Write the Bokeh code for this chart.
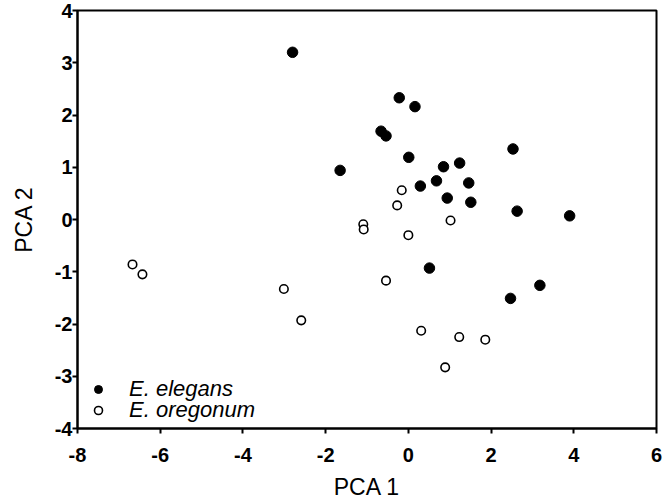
from bokeh.plotting import figure
from bokeh.models import Range1d, FixedTicker, Legend, LegendItem
from bokeh.embed import file_html
from bokeh.resources import INLINE

# E. elegans (filled)
elegans_x = [-2.80, -0.22, 0.16, -0.66, -0.54, 2.53, 0.01, -1.65, 0.85, 1.24,
             0.68, 0.29, 1.46, 0.94, 1.51, 2.63, 3.90, 0.51, 3.18, 2.47]
elegans_y = [3.20, 2.33, 2.16, 1.69, 1.60, 1.35, 1.19, 0.94, 1.01, 1.08,
             0.74, 0.64, 0.70, 0.41, 0.33, 0.16, 0.07, -0.93, -1.26, -1.51]

# E. oregonum (open)
oregonum_x = [-0.16, -0.27, -1.09, -1.08, 1.02, 0.00, -0.54, 0.31, 1.23, 1.86,
              0.89, -6.67, -6.43, -3.01, -2.59]
oregonum_y = [0.56, 0.27, -0.09, -0.19, -0.02, -0.30, -1.17, -2.13, -2.25, -2.30,
              -2.83, -0.86, -1.05, -1.33, -1.93]

x_ticks = [-8, -6, -4, -2, 0, 2, 4, 6]
y_ticks = [-4, -3, -2, -1, 0, 1, 2, 3, 4]
series_names = ["E. elegans", "E. oregonum"]

FONT = "Liberation Sans"

p = figure(width=668, height=502, output_backend="svg", toolbar_location=None,
           x_range=Range1d(-8, 6), y_range=Range1d(-4, 4),
           min_border_left=77, min_border_right=12, min_border_top=10,
           min_border_bottom=74)

p.background_fill_color = "white"
p.border_fill_color = "white"
p.outline_line_color = "black"
p.outline_line_width = 2
p.xgrid.visible = False
p.ygrid.visible = False

r1 = p.scatter(elegans_x, elegans_y, size=10.5, marker="circle",
               fill_color="black", line_color="black", line_width=1)
r2 = p.scatter(oregonum_x, oregonum_y, size=8.5, marker="circle",
               fill_color="white", line_color="black", line_width=1.6)

p.xaxis.ticker = FixedTicker(ticks=x_ticks)
p.yaxis.ticker = FixedTicker(ticks=y_ticks)
p.xaxis.major_label_overrides = {t: str(t) for t in x_ticks}
p.yaxis.major_label_overrides = {t: str(t) for t in y_ticks}

for ax in (p.xaxis, p.yaxis):
    ax.axis_line_width = 2
    ax.axis_line_color = "black"
    ax.major_tick_line_width = 2
    ax.major_tick_line_color = "black"
    ax.major_tick_in = 0
    ax.major_tick_out = 5
    ax.minor_tick_line_color = None
    ax.major_label_text_font = FONT
    ax.major_label_text_font_size = "20px"
    ax.major_label_text_font_style = "bold"
    ax.major_label_text_color = "black"
    ax.axis_label_text_font = FONT
    ax.axis_label_text_font_size = "23px"
    ax.axis_label_text_font_style = "normal"
    ax.axis_label_text_color = "black"

p.xaxis.axis_label = "PCA 1"
p.yaxis.axis_label = "PCA 2"
p.xaxis.major_label_standoff = 14
p.yaxis.major_label_standoff = 0
p.xaxis.axis_label_standoff = 9
p.yaxis.axis_label_standoff = 15


def make_legend(item, y):
    lg = Legend(items=[item], location=(11, y), padding=0, margin=0, spacing=0,
                glyph_width=20, glyph_height=20, label_height=20,
                label_standoff=21, border_line_color=None,
                background_fill_alpha=0)
    lg.label_text_font = FONT
    lg.label_text_font_size = "22px"
    lg.label_text_font_style = "italic"
    lg.label_text_color = "black"
    return lg


p.add_layout(make_legend(LegendItem(label=series_names[0], renderers=[r1]), 26))
p.add_layout(make_legend(LegendItem(label=series_names[1], renderers=[r2]), 5))

open("out.html", "w").write(file_html(p, INLINE))
